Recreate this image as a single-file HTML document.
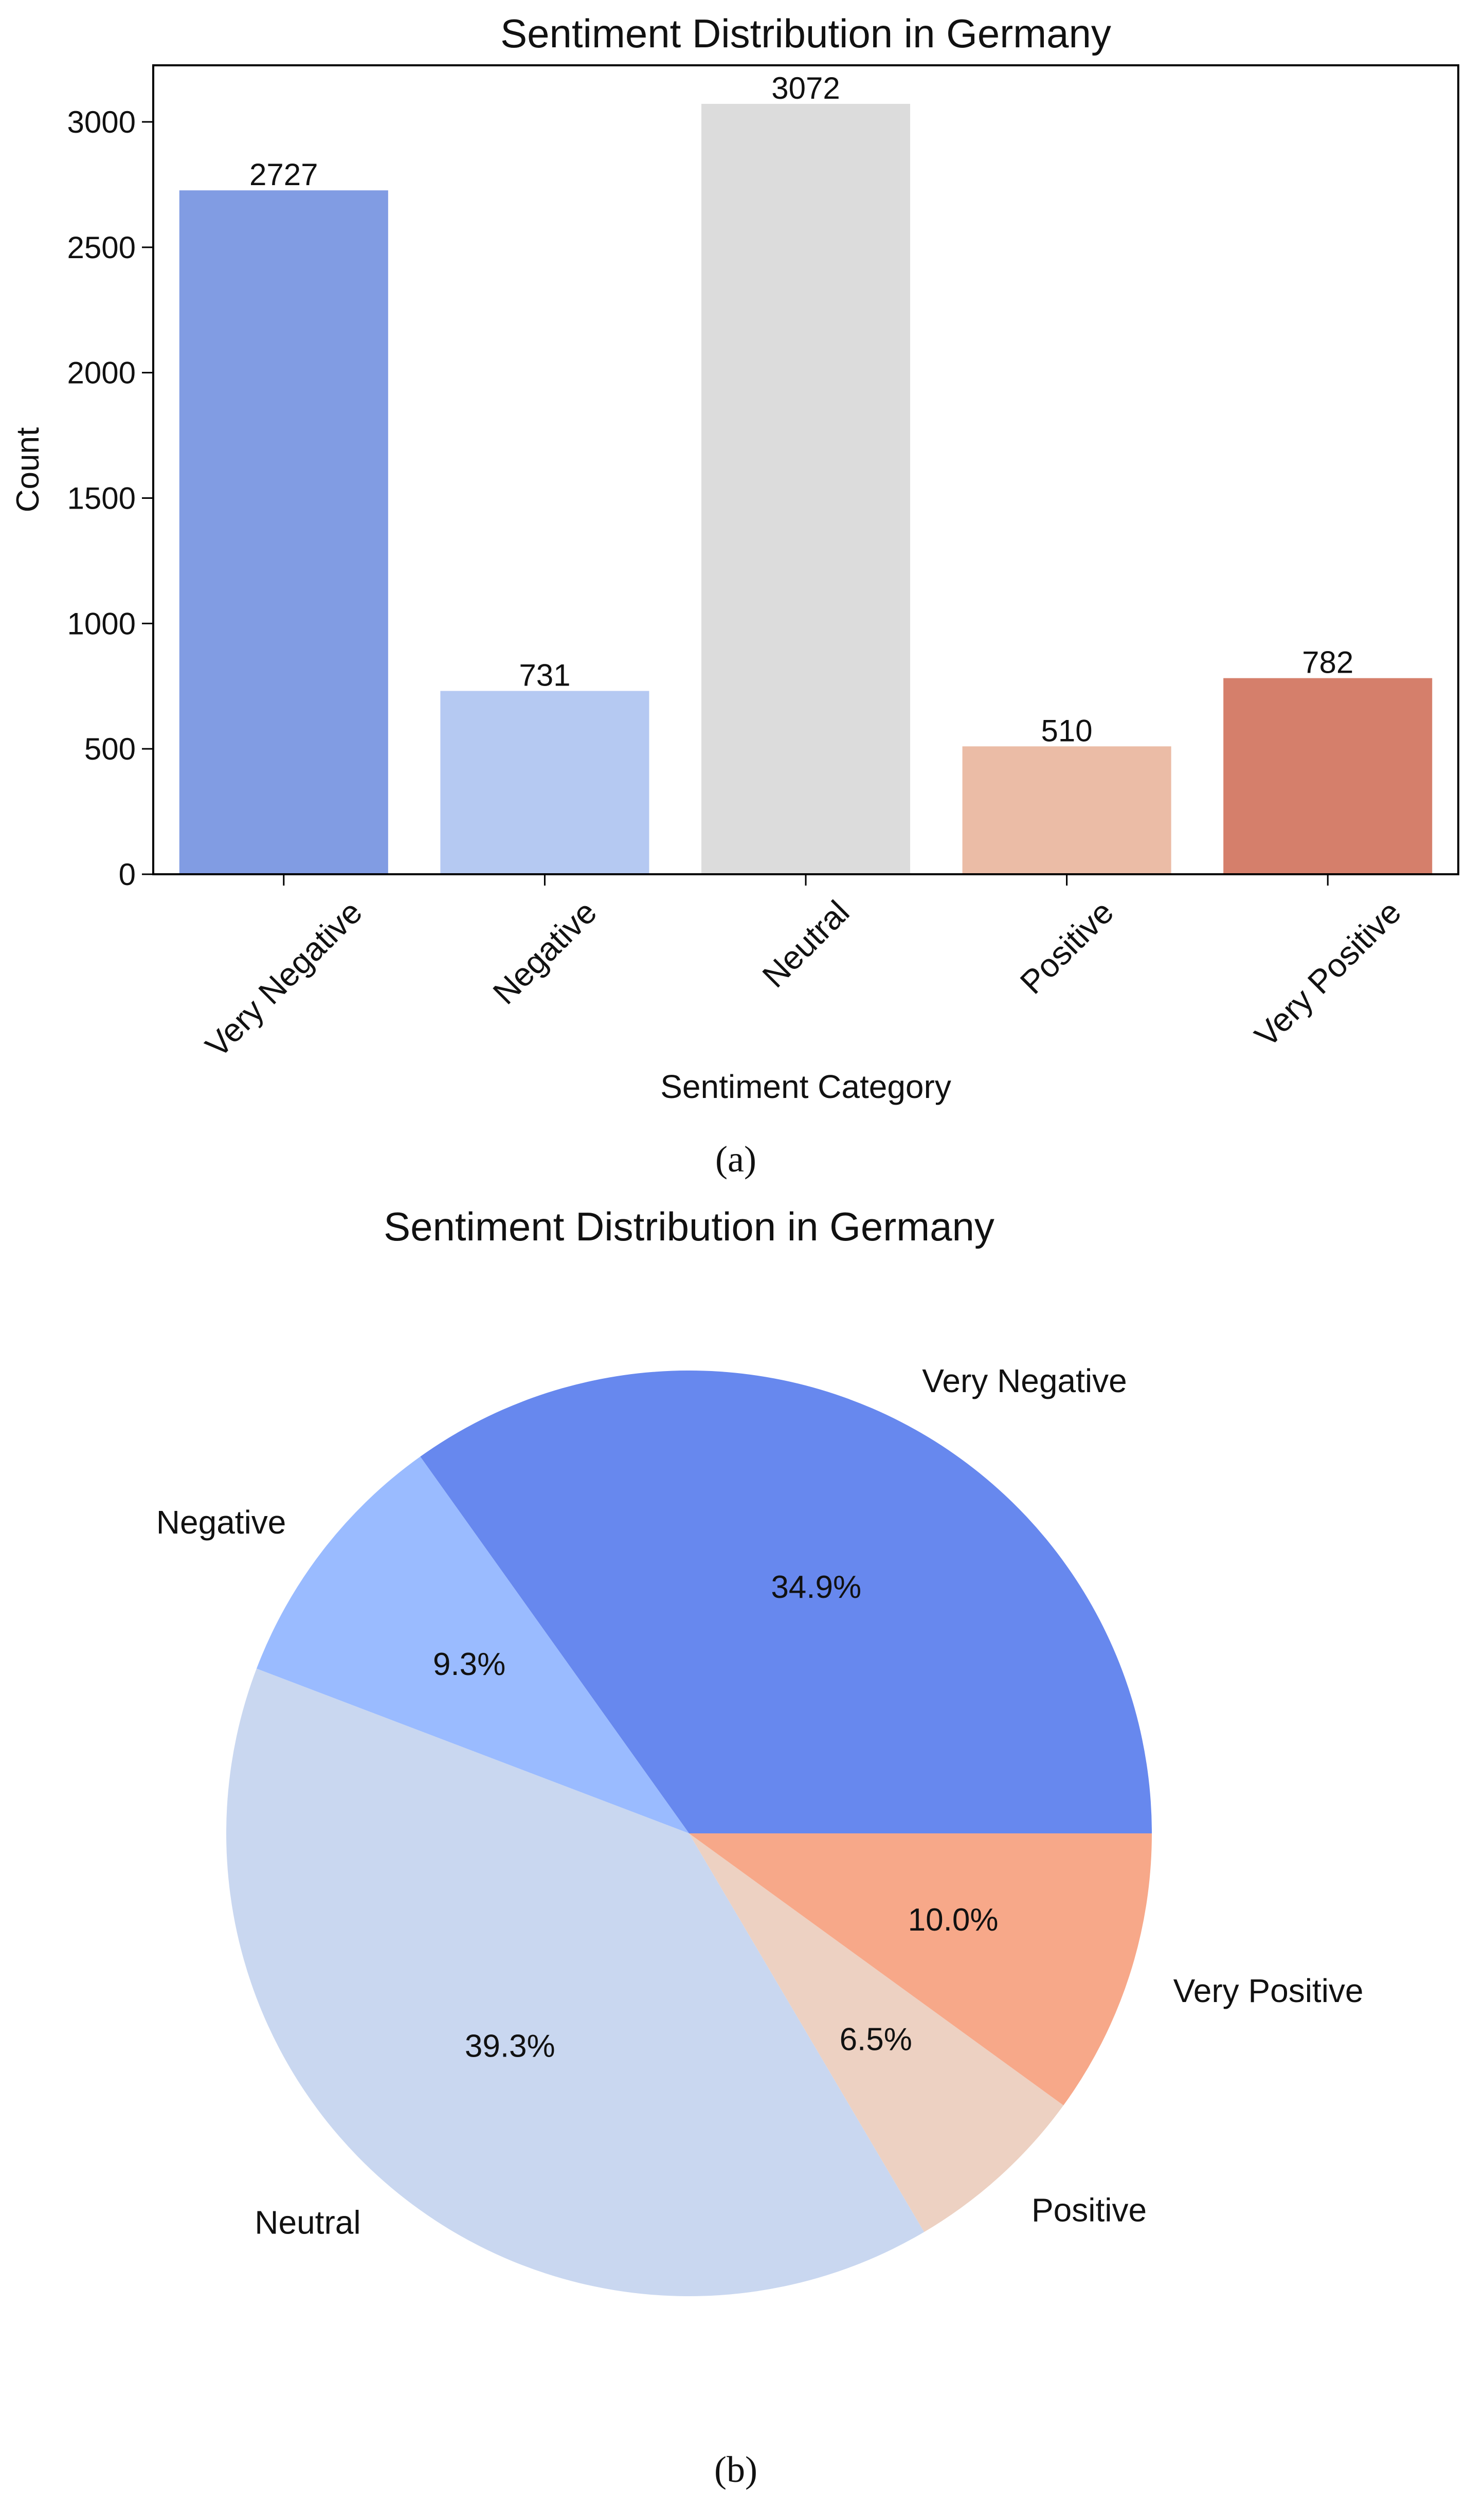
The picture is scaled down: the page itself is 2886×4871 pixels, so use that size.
<!DOCTYPE html>
<html><head><meta charset="utf-8"><style>
html,body{margin:0;padding:0;background:#fff;}
svg{display:block;}
text{font-family:"Liberation Sans","DejaVu Sans",sans-serif;fill:#111;}
</style></head><body>
<svg id="fig" width="2886" height="4871" viewBox="0 0 2886 4871" xmlns="http://www.w3.org/2000/svg">
<rect width="2886" height="4871" fill="#fff"/>
<g id="bar"></g>
<g id="pie"></g>
</svg>
<script>
const categories = ["Very Negative","Negative","Neutral","Positive","Very Positive"];
const counts = [2727, 731, 3072, 510, 782];
const yTicks = [0, 500, 1000, 1500, 2000, 2500, 3000];
const barColors = ["#819ce3","#b5c9f2","#dcdcdc","#ebbca6","#d57f6b"];
const pieColors = ["#6788ee","#9abbff","#c9d7f0","#edd1c2","#f7a889"];

const NS = "http://www.w3.org/2000/svg";
function mk(parent, tag, attrs, txt){
  const e = document.createElementNS(NS, tag);
  for (const k in attrs) e.setAttribute(k, attrs[k]);
  if (txt !== undefined) e.textContent = txt;
  parent.appendChild(e);
  return e;
}
const svg = document.getElementById('fig');
const bar = document.getElementById('bar');
const pie = document.getElementById('pie');

const L = 298, R = 2836, T = 127, B = 1700;
const yMax = Math.max(...counts) * 1.05;
const y = v => B - (v / yMax) * (B - T);
const step = (R - L) / categories.length;
const x = i => L + step * (i + 0.5);
const bw = step * 0.8;

let t = mk(bar, 'text', {x: (L+R)/2, y: 92, 'font-size': 78, 'text-anchor': 'middle'}, 'Sentiment Distribution in Germany');



categories.forEach((c, i) => {
  const r = mk(bar, 'rect', {x: x(i) - bw/2, y: y(counts[i]), width: bw, height: B - y(counts[i]), fill: barColors[i]});
  
  
  const v = mk(bar, 'text', {x: x(i), y: y(counts[i]) - 10, 'font-size': 60, 'text-anchor': 'middle'}, String(counts[i]));
  
  
  mk(bar, 'line', {x1: x(i), x2: x(i), y1: B, y2: B + 22, stroke: '#000', 'stroke-width': 3});
  const lbl = mk(bar, 'text', {'font-size': 64, 'text-anchor': 'middle'}, c);
  
  
  const len = lbl.getComputedTextLength();
  const half = (len + 64) * Math.SQRT1_2 / 2;
  const cx = x(i), cy = B + 40 + half;
  lbl.setAttribute('x', cx); lbl.setAttribute('y', cy + 22);
  lbl.setAttribute('transform', `rotate(-45 ${cx} ${cy})`);
});
yTicks.forEach(v => {
  mk(bar, 'line', {x1: L - 22, x2: L, y1: y(v), y2: y(v), stroke: '#000', 'stroke-width': 3});
  const tl = mk(bar, 'text', {x: L - 34, y: y(v) + 21, 'font-size': 60, 'text-anchor': 'end'}, String(v));
  
  
});
const frame = mk(bar, 'rect', {x: L, y: T, width: R - L, height: B - T, fill: 'none', stroke: '#000', 'stroke-width': 4});


t = mk(bar, 'text', {x: 75, y: (T+B)/2, 'font-size': 62, 'text-anchor': 'middle', transform: `rotate(-90 75 ${(T+B)/2})`}, 'Count');


t = mk(bar, 'text', {x: (L+R)/2, y: 2135, 'font-size': 64, 'text-anchor': 'middle'}, 'Sentiment Category');


t = mk(svg, 'text', {x: 1431, y: 2278, 'font-size': 72, 'text-anchor': 'middle', style: 'font-family:"Liberation Serif",serif'}, '(a)');



const cx = 1340, cy = 3565, rad = 900;
t = mk(pie, 'text', {x: cx, y: 2412, 'font-size': 78, 'text-anchor': 'middle'}, 'Sentiment Distribution in Germany');


const total = counts.reduce((a, b) => a + b, 0);
let a0 = 0;
categories.forEach((c, i) => {
  const frac = counts[i] / total;
  const a1 = a0 + frac * 2 * Math.PI;
  const p = (a) => [cx + rad * Math.cos(a), cy - rad * Math.sin(a)];
  const [x0, y0] = p(a0), [x1, y1] = p(a1);
  const large = (a1 - a0) > Math.PI ? 1 : 0;
  const s = mk(pie, 'path', {d: `M${cx},${cy} L${x0},${y0} A${rad},${rad} 0 ${large} 0 ${x1},${y1} Z`, fill: pieColors[i]});
  
  
  const am = (a0 + a1) / 2;
  const pc = mk(pie, 'text', {x: cx + 0.6*rad*Math.cos(am), y: cy - 0.6*rad*Math.sin(am) + 22, 'font-size': 62, 'text-anchor': 'middle'}, (frac*100).toFixed(1) + '%');
  
  
  const lx = cx + 1.1*rad*Math.cos(am), ly = cy - 1.1*rad*Math.sin(am);
  const lb = mk(pie, 'text', {x: lx, y: ly + 22, 'font-size': 64, 'text-anchor': Math.cos(am) > 0 ? 'start' : 'end'}, c);
  
  
  a0 = a1;
});
t = mk(svg, 'text', {x: 1431, y: 4826, 'font-size': 72, 'text-anchor': 'middle', style: 'font-family:"Liberation Serif",serif'}, '(b)');


</script>
</body></html>
